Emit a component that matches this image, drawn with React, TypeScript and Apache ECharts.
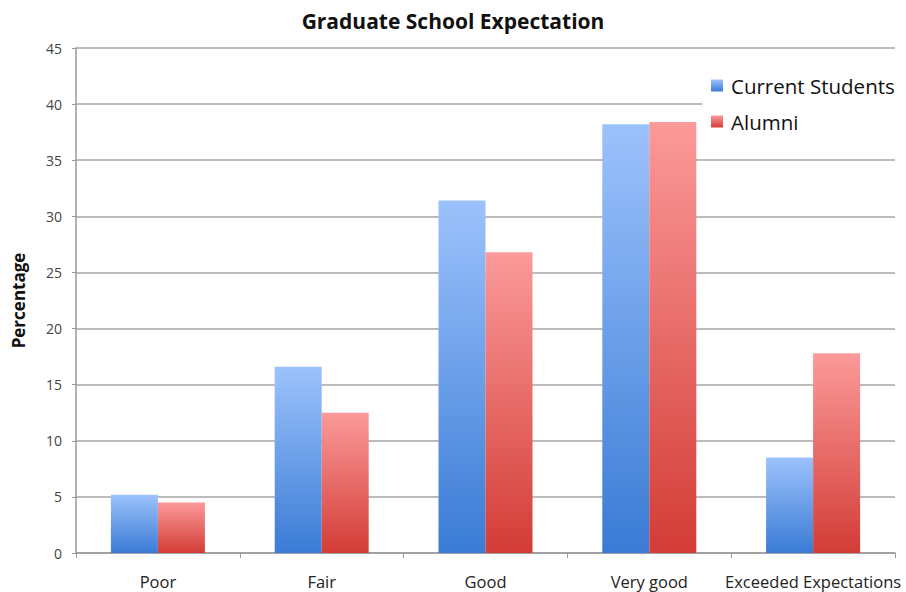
import React, { useEffect, useRef } from "react";
import * as echarts from "echarts";

const categories = ["Poor", "Fair", "Good", "Very good", "Exceeded Expectations"];
const currentStudents = [5.2, 16.6, 31.4, 38.2, 8.5];
const alumni = [4.5, 12.5, 26.8, 38.4, 17.8];
const seriesNames = ["Current Students", "Alumni"];
const titleText = "Graduate School Expectation";
const yAxisTitle = "Percentage";

const FONT = '"Open Sans", "Noto Sans", sans-serif';

const vGrad = (top: string, bottom: string) =>
  new echarts.graphic.LinearGradient(0, 0, 0, 1, [
    { offset: 0, color: top },
    { offset: 1, color: bottom },
  ]);

export default function App() {
  const ref = useRef<HTMLDivElement>(null);

  useEffect(() => {
    if (!ref.current) return;
    const chart = echarts.init(ref.current, undefined, { renderer: "svg" });
    chart.setOption({
      animation: false,
      backgroundColor: "#ffffff",
      title: {
        text: titleText,
        left: "center",
        top: 5,
        textStyle: { fontFamily: FONT, fontSize: 21, fontWeight: "bold", color: "#111" },
      },
      legend: {
        data: seriesNames,
        orient: "vertical",
        left: 702,
        top: 69,
        padding: [6, 12, 6, 9],
        backgroundColor: "#ffffff",
        itemWidth: 12,
        itemHeight: 12,
        itemGap: 15,
        icon: "rect",
        textStyle: { fontFamily: FONT, fontSize: 20.5, color: "#111", padding: [0, 0, 0, 3] },
      },
      grid: {
        left: 76,
        right: 11,
        top: 48,
        bottom: 39,
        containLabel: false,
        outerBoundsMode: "none",
      },
      xAxis: {
        type: "category",
        data: categories,
        axisLine: { lineStyle: { color: "#999", width: 1.5 } },
        axisTick: { show: true, length: 5, lineStyle: { color: "#999" } },
        axisLabel: {
          margin: 20,
          interval: 0,
          fontFamily: FONT,
          fontSize: 16.5,
          lineHeight: 17,
          color: "#222",
        },
      },
      yAxis: {
        type: "value",
        min: 0,
        max: 45,
        interval: 5,
        name: yAxisTitle,
        nameLocation: "middle",
        nameGap: 49,
        nameRotate: 90,
        nameTextStyle: { fontFamily: FONT, fontSize: 17, fontWeight: "bold", color: "#111" },
        axisLine: { show: true, lineStyle: { color: "#999", width: 1.5 } },
        axisTick: { show: true, length: 4, lineStyle: { color: "#999" } },
        axisLabel: { margin: 14, fontFamily: FONT, fontSize: 14, color: "#444" },
        splitLine: { show: true, lineStyle: { color: "#a6a6a6", width: 1.5 } },
      },
      series: [
        {
          name: seriesNames[0],
          type: "bar",
          data: currentStudents,
          barWidth: 47,
          barGap: "0%",
          itemStyle: { color: vGrad("#9cc2fc", "#3a7bd5") },
        },
        {
          name: seriesNames[1],
          type: "bar",
          data: alumni,
          barWidth: 47,
          itemStyle: { color: vGrad("#fb9a9a", "#d33c36") },
        },
      ],
    });
    return () => chart.dispose();
  }, []);

  return (
    <div
      ref={ref}
      style={{ position: "fixed", left: 0, top: 0, width: 906, height: 592 }}
    />
  );
}
